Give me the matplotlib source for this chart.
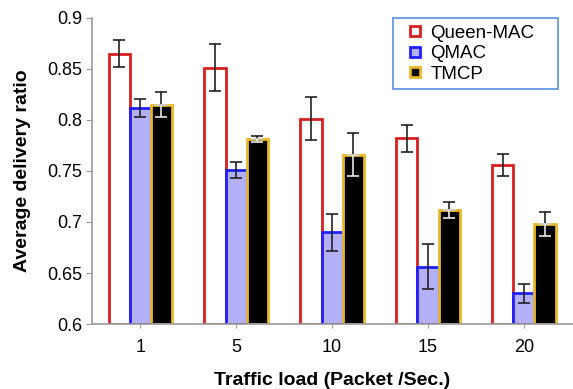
import matplotlib.pyplot as plt
from matplotlib.lines import Line2D
import numpy as np

plt.rcParams['font.family'] = ['Liberation Sans', 'DejaVu Sans']

# Data
loads = ['1', '5', '10', '15', '20']
queen_mac = [0.865, 0.851, 0.801, 0.782, 0.756]
queen_mac_err = [0.013, 0.023, 0.021, 0.013, 0.011]
qmac = [0.812, 0.751, 0.690, 0.656, 0.630]
qmac_err = [0.009, 0.008, 0.018, 0.022, 0.009]
tmcp = [0.815, 0.781, 0.766, 0.712, 0.698]
tmcp_err = [0.012, 0.003, 0.021, 0.008, 0.012]

names = ['Queen-MAC', 'QMAC', 'TMCP']
fills = ['white', '#b4b0f7', 'black']
edges = ['#d62020', '#1f1fff', '#e8b828']

x = np.arange(len(loads))
w = 0.22

fig = plt.figure(figsize=(5.73, 3.89), dpi=100)
ax = fig.add_axes([0.161, 0.167, 0.837, 0.787])

bottom = 0.6
for i, vals in enumerate([queen_mac, qmac, tmcp]):
    ax.bar(x + (i - 1) * w, np.array(vals) - bottom, w, bottom=bottom,
           color=fills[i], edgecolor=edges[i], linewidth=2, zorder=2)

ekw = dict(fmt='none', capsize=4, elinewidth=1.2, capthick=1.2, zorder=3)
ax.errorbar(x - w, queen_mac, yerr=queen_mac_err, ecolor='#222222', **ekw)
ax.errorbar(x, qmac, yerr=qmac_err, ecolor='#222222', **ekw)
# TMCP error bars: dark above the bar top, light inside the black bar
ax.errorbar(x + w, tmcp, yerr=[np.zeros(len(tmcp)), tmcp_err], ecolor='#222222', **ekw)
ax.errorbar(x + w, tmcp, yerr=[tmcp_err, np.zeros(len(tmcp))], ecolor='#e8e8e8', **ekw)

ax.set_xlim(-0.5, 4.5)
ax.set_ylim(0.6, 0.9)
ax.set_yticks([0.6, 0.65, 0.7, 0.75, 0.8, 0.85, 0.9])
ax.set_yticklabels(['0.6', '0.65', '0.7', '0.75', '0.8', '0.85', '0.9'])
ax.set_xticks(x)
ax.set_xticklabels(loads)
ax.tick_params(labelsize=13, color='#999999', length=4, pad=3)
ax.tick_params(axis='x', length=3, pad=8)

for s in ['top', 'right']:
    ax.spines[s].set_visible(False)
for s in ['left', 'bottom']:
    ax.spines[s].set_color('#999999')
    ax.spines[s].set_linewidth(1.2)

ax.set_xlabel('Traffic load (Packet /Sec.)', fontsize=14, fontweight='bold', labelpad=11)
ax.set_ylabel('Average delivery ratio', fontsize=14, fontweight='bold', labelpad=12)

handles = [Line2D([], [], linestyle='none', marker='s', markersize=7.5,
                  markerfacecolor=f, markeredgecolor=e, markeredgewidth=2)
           for f, e in zip(fills, edges)]
# fixed-width box, entries left aligned (wide right margin like the original)
leg = ax.legend(handles, names, loc='upper left', mode='expand',
                bbox_to_anchor=(0.627, 0.5, 0.344, 0.5),
                borderaxespad=0, fontsize=13.5, fancybox=False, framealpha=1,
                handlelength=1.6, handletextpad=0.05, labelspacing=0.18,
                borderpad=0.35, numpoints=1)
leg.get_frame().set_edgecolor('#5b8fe0')
leg.get_frame().set_linewidth(1.2)

plt.savefig('out.png', dpi=100)
